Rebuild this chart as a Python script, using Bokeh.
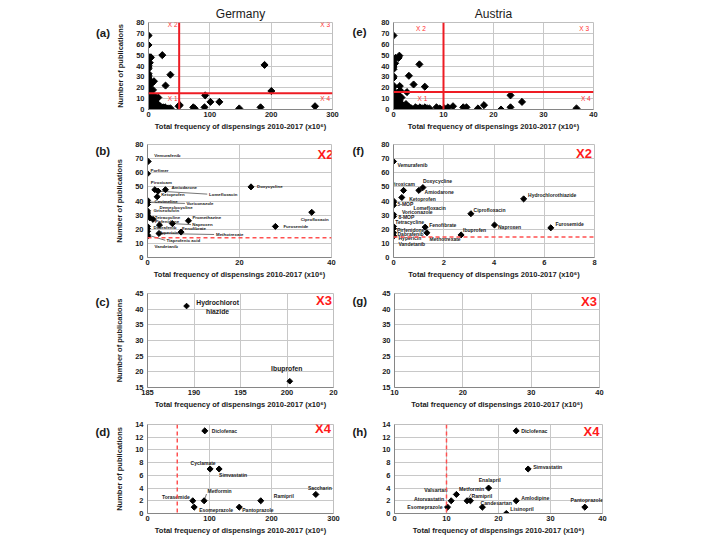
import numpy as np
from bokeh.plotting import figure
from bokeh.models import ColumnDataSource, Label, Range1d, FixedTicker, Span
from bokeh.layouts import row, column
from bokeh.embed import file_html
from bokeh.resources import INLINE
from bokeh.core.properties import value, field

FONT = "Liberation Sans"
XLABEL = "Total frequency of dispensings 2010-2017 (x10\u2076)"
YLABEL = "Number of publications"

# ---------------- data ----------------
# Germany, quadrant X2 (panel b)
de_x2_names = ["Vemurafenib", "Porfimer", "Piroxicam", "Amiodarone", "Lomefloxacin", "Ketoprofen",
               "Cevimeline", "Voriconazole", "Demeclocycline", "Griseofulvin", "", "",
               "Tetracycline", "Pirfenidone", "Promethazine", "Naproxen", "", "Dabrafenib", "",
               "Fenofibrate", "Hypericin", "Methotrexate", "Tiaprofenic acid", "Vandetanib",
               "Doxycycline", "Ciprofloxacin", "Furosemide"]
de_x2_freq = [0.15, 0.0, 1.6, 3.9, 2.3, 2.1, 0.0, 0.0, 0.0, 0.0, 0.0, 0.0, 0.5, 1.2, 8.9, 5.4, 2.6,
              0.0, 0.0, 7.3, 0.0, 2.5, 0.0, 0.0, 22.5, 35.7, 27.8]
de_x2_pubs = [68, 59.3, 48, 48, 47, 43, 40.5, 39, 37.5, 33, 31.5, 30, 28, 27, 26, 24, 23, 22, 20.5,
              18, 18.5, 17, 16, 15, 50, 32, 22]

# Germany, quadrant X3 (panel c)
de_x3_names = ["Hydrochlorot\nhiazide", "Ibuprofen"]
de_x3_freq = [189.2, 200.3]
de_x3_pubs = [41, 17]

# Germany, quadrant X4 (panel d)
de_x4_names = ["Diclofenac", "Cyclamate", "Simvastatin", "Torasemide", "Metformin", "Esomeprazole",
               "Pantoprazole", "Ramipril", "Saccharin"]
de_x4_freq = [92.4, 101, 115.5, 73, 91.3, 75.3, 148, 182.7, 271.5]
de_x4_pubs = [13, 7, 7, 2, 2, 1, 1, 2, 3]

# Germany, quadrant X1 (unlabelled, only in panel a)
de_x1_freq = [0, 0, 0, 0, 0, 0, 0, 0, 0, 0, 0, 0, 0, 0,
              1, 1, 2, 2, 3, 3, 4, 4, 5, 6, 6, 7, 8, 9, 10, 11, 12, 13, 14, 15, 17, 19, 21, 24, 27,
              30, 33, 36, 49, 51, 2, 4, 7, 12, 16]
de_x1_pubs = [14, 13, 12, 11, 10, 9, 8, 6, 5, 4, 3, 2, 1, 0,
              12, 7, 10, 3, 13, 5, 8, 1, 11, 2, 6, 9, 4, 12, 1, 7, 3, 10, 2, 5, 1, 3, 0, 2, 2,
              1, 1, 1, 3, 4, 0, 0, 0, 11, 11]

# Austria, quadrant X2 (panel f)
at_x2_names = ["Vemurafenib", "Piroxicam", "Doxycycline", "Amiodarone", "Ketoprofen",
               "Hydrochlorothiazide", "", "5-MOP", "Lomefloxacin", "Voriconazole", "8-MOP",
               "Ciprofloxacin", "Tetracycline", "Fenofibrate", "Pirfenidone", "Naproxen",
               "Furosemide", "Ibuprofen", "Dabrafenib", "Methotrexate", "Hypericin", "Vandetanib"]
at_x2_freq = [0, 0.4, 1.17, 1.01, 0.33, 5.18, 0, 0, 0, 0, 0, 3.08, 0, 1.26, 0, 4.02, 6.26, 2.69,
              0, 1.33, 0, 0]
at_x2_pubs = [68, 47.5, 49.5, 47.5, 42.5, 41.5, 40, 39, 37, 30.5, 29, 31, 22, 21.5, 20.5, 23, 21,
              16, 17.5, 17.5, 15.5, 15]

# Austria, quadrant X4 (panel h)
at_x4_names = ["Diclofenac", "Simvastatin", "Enalapril", "Valsartan", "Metformin", "Ramipril",
               "Atorvastatin", "Esomeprazole", "Candesartan", "Lisinopril", "Amlodipine",
               "Pantoprazole"]
at_x4_freq = [23.4, 25.7, 18.1, 11.9, 13.95, 14.6, 10.9, 10.2, 16.9, 21.5, 23.4, 36.6]
at_x4_pubs = [13, 7, 4, 3, 2, 2, 2, 1, 1, 0, 2, 1]

# Austria, quadrant X1 (unlabelled, only in panel e)
at_x1_freq = [0, 0, 0, 0, 0, 0, 0, 0, 0, 0, 0, 0, 0, 0,
              0.3, 0.5, 0.6, 0.8, 1.0, 1.2, 1.4, 1.6, 1.9, 2.2, 2.5, 2.8, 3.2, 3.6, 4.0, 4.4, 4.9,
              5.3, 5.8, 6.3, 6.8, 7.2, 8.6, 9.3, 0.4, 0.7, 1.1, 1.5]
at_x1_pubs = [14, 13, 12, 11, 10, 9, 8, 7, 6, 5, 4, 3, 1, 0,
              12, 9, 6, 3, 13, 8, 2, 11, 4, 1, 5, 3, 2, 1, 0, 2, 1, 2, 1, 2, 1, 1, 2, 1,
              10, 7, 12, 5]

# thresholds
DE_FREQ_CUT_A, DE_PUB_CUT_A = 50, 15
DE_PUB_CUT_B, DE_FREQ_CUT_D = 14, 48
AT_FREQ_CUT_E, AT_PUB_CUT_E = 10, 16
AT_PUB_CUT_F, AT_FREQ_CUT_H = 14.5, 10

# ---------------- label placement (pixels) ----------------
b_dx = [6, 3, -4, 6, 51, 4, 7, 39, 12, 6, 0, 0, 5, 2, 4, 20, 0, 6, 0, 1, 11, 57, 19, 7, 6, 3, 8]
b_dy = [6, 3, 7, 2, -3, 2.5, -1, -1, -2.5, 0, 0, 0, 0, -2.6, 3, -1, 0, -1, 0, 3.7, -1.6, -1, -5.4,
        -10.6, 0, -7, 0]
b_al = ["left"] * 25 + ["center", "left"]
b_lead = [4, 7, 15, 21, 22]

f_dx = [4, -0.6, 0, 5.7, 7.4, 4.4, 0, 4, 20, 8.4, 5, 2.7, 1.7, 4, 3.4, 3.5, 4.6, 2, 4, 2.6, 5, 5]
f_dy = [-4, 6, 6.6, -1.9, -1.4, 4, 0, -1.4, -2.9, 2.4, -0.4, 4, 4.6, 2.6, -1, -1.9, 4.3, 5.4, -1.7,
        -6, -2.8, -8]
f_al = ["left", "center"] + ["left"] * 20

c_dx = [31, -3]
c_dy = [-1, 13]
c_al = ["center", "center"]

d_dx = [7, -7, 0, -3, 3.4, 5, 3, 13, 4]
d_dy = [0, 6, -6, 4, 10, -3, -3, 5, 6]
d_al = ["left", "center", "left", "right", "left", "left", "left", "left", "center"]

h_dx = [5, 5, 1, -9, -8, 1, -7, -5, -2, 4, 5, 2]
h_dy = [0, 2, 8, 4, 12, 5, 2, 0, 4, 5, 3, 7]
h_al = ["left", "left", "center", "right", "left", "left", "right", "right", "left", "left",
        "left", "center"]

RED = "#ee1c24"
DASH_RED = "#ff5050"
TXT = "#1a1a1a"

# page layout (pixels): column splits and row bands
LCOL_LETTER = (0, 112)
LCOL_PLOT = (112, 350)
RCOL_LETTER = (350, 372)
RCOL_PLOT = (372, 708)
ROWS = [(0, 137), (137, 283), (283, 412), (412, 544)]


def panel(frame, box, xr, yr, xticks, yticks, ylabel, title=None, overrides=None):
    fl, ft, fr, fb = frame
    bl, bt, br, bb = box
    p = figure(width=br - bl, height=bb - bt, x_range=Range1d(*xr), y_range=Range1d(*yr),
               output_backend="svg", toolbar_location=None, title=title,
               min_border_left=fl - bl, min_border_right=br - fr,
               min_border_top=ft - bt, min_border_bottom=bb - fb,
               background_fill_color="white", border_fill_color="white",
               outline_line_color="#bfbfbf")
    if title:
        p.title.align = "center"
        p.title.text_font = FONT
        p.title.text_font_size = "12px"
        p.title.text_font_style = "normal"
        p.title.text_color = TXT
        p.title.standoff = 3
    p.xaxis.ticker = FixedTicker(ticks=xticks)
    p.yaxis.ticker = FixedTicker(ticks=yticks)
    for ax in (p.xaxis[0], p.yaxis[0]):
        ax.major_tick_out = 0
        ax.major_tick_in = 0
        ax.minor_tick_out = 0
        ax.minor_tick_in = 0
        ax.axis_line_color = "#868686"
        ax.major_label_text_font = FONT
        ax.major_label_text_font_size = "7.5px"
        ax.major_label_text_font_style = "bold"
        ax.major_label_text_color = TXT
        ax.axis_label_text_font = FONT
        ax.axis_label_text_font_size = "7.5px"
        ax.axis_label_text_font_style = "bold"
        ax.axis_label_text_color = TXT
    p.xaxis.major_label_standoff = 2
    p.xaxis.axis_label_standoff = 2
    p.yaxis.major_label_standoff = 4
    p.yaxis.axis_label_standoff = 8
    p.xaxis.axis_label = XLABEL
    if ylabel:
        p.yaxis.axis_label = YLABEL
    if overrides:
        p.xaxis.major_label_overrides = overrides
    p.grid.grid_line_color = "#c8c8c8"
    p.grid.grid_line_width = 1
    return p


def letter_fig(col, r, px, py, text):
    x0, x1 = col
    y0, y1 = ROWS[r]
    w, h = x1 - x0, y1 - y0
    q = figure(width=w, height=h, x_range=Range1d(0, w), y_range=Range1d(0, h),
               output_backend="svg", toolbar_location=None, title=None,
               min_border_left=0, min_border_right=0, min_border_top=0, min_border_bottom=0,
               outline_line_color=None, background_fill_color="white",
               border_fill_color="white")
    q.axis.visible = False
    q.grid.visible = False
    q.text(x=[px - x0], y=[y1 - py], text=[text], text_font=value(FONT),
           text_font_size="11.5px", text_font_style="bold", text_color=TXT,
           text_align="left", text_baseline="middle")
    return q


def put(p, frame, px, py, text, size, color=TXT, style="normal", align="left"):
    fl, ft, fr, fb = frame
    p.add_layout(Label(x=px - fl, y=fb - py, x_units="screen", y_units="screen", text=text,
                       text_font=FONT, text_font_size=size, text_font_style=style,
                       text_color=color, text_align=align, text_baseline="middle"))


def points(p, xs, ys, size):
    p.scatter(xs, ys, marker="square", angle=np.pi / 4, size=size,
              fill_color="black", line_color="black")


def names(p, xs, ys, txt, dx, dy, al, size):
    src = ColumnDataSource(dict(x=xs, y=ys, t=txt, dx=dx, dy=[-v for v in dy], al=al))
    p.text(x="x", y="y", text="t", x_offset="dx", y_offset="dy", text_align=field("al"),
           text_baseline="middle", text_font=value(FONT), text_font_size=size,
           text_font_style="bold", text_color=TXT, source=src)


def leaders(p, frame, xr, yr, xs, ys, dx, dy, idx):
    fl, ft, fr, fb = frame
    sx = (xr[1] - xr[0]) / (fr - fl)
    sy = (yr[1] - yr[0]) / (fb - ft)
    x0 = [xs[i] for i in idx]
    y0 = [ys[i] for i in idx]
    x1 = [xs[i] + (dx[i] - 1) * sx for i in idx]
    y1 = [ys[i] + dy[i] * sy for i in idx]
    p.segment(x0, y0, x1, y1, line_color=TXT, line_width=0.6)


def box(col, r):
    return (col[0], ROWS[r][0], col[1], ROWS[r][1])


# ---------------- (a) Germany overview ----------------
fa = (148, 22, 332, 111)
xr, yr = (0, 300), (0, 80)
pa = panel(fa, box(LCOL_PLOT, 0), xr, yr, [0, 100, 200, 300], list(range(0, 81, 10)), True,
           title="Germany")
pa.add_layout(Span(location=DE_FREQ_CUT_A, dimension="height", line_color=RED, line_width=2))
pa.add_layout(Span(location=DE_PUB_CUT_A, dimension="width", line_color=RED, line_width=2))
points(pa, de_x1_freq + de_x2_freq + de_x3_freq + de_x4_freq,
       de_x1_pubs + de_x2_pubs + de_x3_pubs + de_x4_pubs, 5)
put(pa, fa, 177, 26, "X 2", "6.5px", color="#ff3030", align="right")
put(pa, fa, 329.5, 26, "X 3", "6.5px", color="#ff3030", align="right")
put(pa, fa, 177, 99.5, "X 1", "6.5px", color="#ff3030", align="right")
put(pa, fa, 329.5, 99.5, "X 4", "6.5px", color="#ff3030", align="right")

# ---------------- (e) Austria overview ----------------
fe = (393, 22, 593, 109)
xr, yr = (0, 40), (0, 80)
pe = panel(fe, box(RCOL_PLOT, 0), xr, yr, [0, 10, 20, 30, 40], list(range(0, 81, 10)), False,
           title="Austria")
pe.add_layout(Span(location=AT_FREQ_CUT_E, dimension="height", line_color=RED, line_width=2))
pe.add_layout(Span(location=AT_PUB_CUT_E, dimension="width", line_color=RED, line_width=2))
points(pe, at_x1_freq + at_x2_freq + at_x4_freq, at_x1_pubs + at_x2_pubs + at_x4_pubs, 5)
put(pe, fe, 420.5, 28.3, "X 2", "6.5px", color="#ff3030", align="center")
put(pe, fe, 583.7, 28.3, "X 3", "6.5px", color="#ff3030", align="center")
put(pe, fe, 422, 97.7, "X 1", "6.5px", color="#ff3030", align="center")
put(pe, fe, 585.3, 97.7, "X 4", "6.5px", color="#ff3030", align="center")

# ---------------- (b) Germany X2 ----------------
fbx = (144, 144, 331, 257)
xr, yr = (0, 40), (0, 80)
pb = panel(fbx, box(LCOL_PLOT, 1), xr, yr, [0, 20, 40], list(range(0, 81, 10)), True)
pb.add_layout(Span(location=DE_PUB_CUT_B, dimension="width", line_color=DASH_RED,
                   line_width=1.5, line_dash="4 3"))
leaders(pb, fbx, xr, yr, de_x2_freq, de_x2_pubs, b_dx, b_dy, b_lead)
points(pb, de_x2_freq, de_x2_pubs, 4.3)
names(pb, de_x2_freq, de_x2_pubs, de_x2_names, b_dx, b_dy, b_al, "4.4px")
put(pb, fbx, 330, 154, "X2", "13px", color="#ff1a1a", style="bold", align="right")

# ---------------- (f) Austria X2 ----------------
ff = (393, 144, 594, 258)
xr, yr = (0, 8), (0, 80)
pf = panel(ff, box(RCOL_PLOT, 1), xr, yr, [0, 2, 4, 6, 8], list(range(0, 81, 10)), False)
pf.add_layout(Span(location=AT_PUB_CUT_F, dimension="width", line_color=DASH_RED,
                   line_width=1.5, line_dash="4 3"))
points(pf, at_x2_freq, at_x2_pubs, 4.3)
names(pf, at_x2_freq, at_x2_pubs, at_x2_names, f_dx, f_dy, f_al, "5px")
put(pf, ff, 591.5, 154, "X2", "13px", color="#ff1a1a", style="bold", align="right")

# ---------------- (c) Germany X3 ----------------
fc = (146, 293, 333, 388)
xr, yr = (185, 205), (15, 45)
pc = panel(fc, box(LCOL_PLOT, 2), xr, yr, [185, 190, 195, 200, 205], list(range(15, 46, 5)),
           True, overrides={205: "20"})
points(pc, de_x3_freq, de_x3_pubs, 4)
names(pc, de_x3_freq, de_x3_pubs, de_x3_names, c_dx, c_dy, c_al, "6.8px")
put(pc, fc, 330.5, 301, "X3", "13px", color="#ff1a1a", style="bold", align="right")

# ---------------- (g) Austria X3 (empty) ----------------
fg = (394, 293, 599, 387)
xr, yr = (10, 40), (15, 45)
pg = panel(fg, box(RCOL_PLOT, 2), xr, yr, [10, 20, 30, 40], list(range(15, 46, 5)), False)
pg.scatter([], [], marker="square")
put(pg, fg, 596.5, 301, "X3", "13px", color="#ff1a1a", style="bold", align="right")

# ---------------- (d) Germany X4 ----------------
fd = (147, 423, 333, 515)
xr, yr = (0, 300), (0, 14)
pd_ = panel(fd, box(LCOL_PLOT, 3), xr, yr, [0, 100, 200, 300], list(range(0, 15, 2)), True)
pd_.add_layout(Span(location=DE_FREQ_CUT_D, dimension="height", line_color=DASH_RED,
                    line_width=1.5, line_dash="4 3"))
leaders(pd_, fd, xr, yr, de_x4_freq, de_x4_pubs, d_dx, [v - 3 for v in d_dy], [4])
points(pd_, de_x4_freq, de_x4_pubs, 4.3)
names(pd_, de_x4_freq, de_x4_pubs, de_x4_names, d_dx, d_dy, d_al, "5px")
put(pd_, fd, 330.5, 430, "X4", "13px", color="#ff1a1a", style="bold", align="right")

# ---------------- (h) Austria X4 ----------------
fh = (394, 424, 602, 513)
xr, yr = (0, 40), (0, 14)
ph = panel(fh, box(RCOL_PLOT, 3), xr, yr, [0, 10, 20, 30, 40], list(range(0, 15, 2)), False)
ph.add_layout(Span(location=AT_FREQ_CUT_H, dimension="height", line_color=DASH_RED,
                   line_width=1.5, line_dash="4 3"))
leaders(ph, fh, xr, yr, at_x4_freq, at_x4_pubs,
        [5 if i == 4 else v for i, v in enumerate(h_dx)],
        [7 if i == 4 else v for i, v in enumerate(h_dy)], [4])
points(ph, at_x4_freq, at_x4_pubs, 4.3)
names(ph, at_x4_freq, at_x4_pubs, at_x4_names, h_dx, h_dy, h_al, "5.2px")
put(ph, fh, 599, 431, "X4", "13px", color="#ff1a1a", style="bold", align="right")

# ---------------- panel letters ----------------
la = letter_fig(LCOL_LETTER, 0, 95.5, 16.5, "(a)")
lb = letter_fig(LCOL_LETTER, 1, 95, 145, "(b)")
lc = letter_fig(LCOL_LETTER, 2, 95, 295, "(c)")
ld = letter_fig(LCOL_LETTER, 3, 95, 422.7, "(d)")
le = letter_fig(RCOL_LETTER, 0, 352, 15, "(e)")
lf = letter_fig(RCOL_LETTER, 1, 352, 145, "(f)")
lg = letter_fig(RCOL_LETTER, 2, 352, 293, "(g)")
lh = letter_fig(RCOL_LETTER, 3, 352, 423, "(h)")

layout = column(
    row(la, pa, le, pe),
    row(lb, pb, lf, pf),
    row(lc, pc, lg, pg),
    row(ld, pd_, lh, ph),
)

open("out.html", "w").write(file_html(layout, INLINE))
